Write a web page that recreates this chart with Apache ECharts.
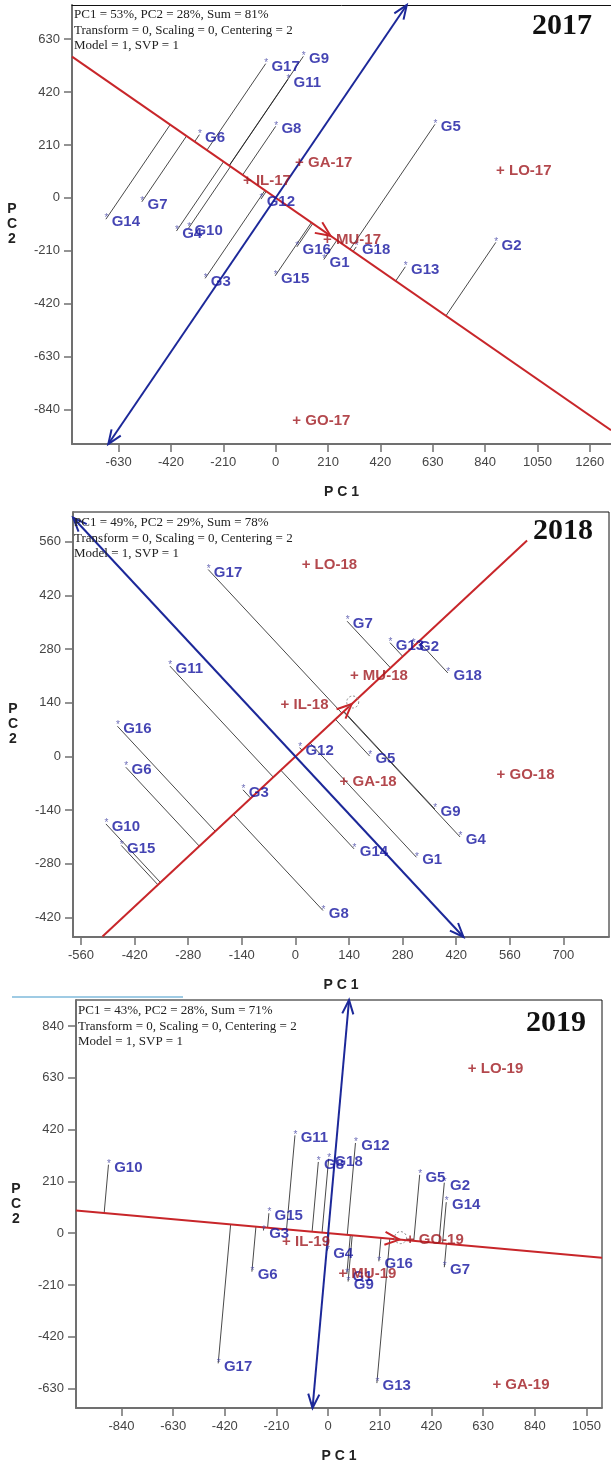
<!DOCTYPE html>
<html>
<head>
<meta charset="utf-8">
<script src="https://cdn.jsdelivr.net/npm/echarts@6/dist/echarts.min.js"></script>
<style>
html, body { margin: 0; padding: 0; background: #fff; }
#biplot { width: 611px; height: 1466px; }
</style>
</head>
<body>
<div id="biplot"></div>
<script>
// genotype scores (PC1, PC2)
var genotypes = ['G1', 'G2', 'G3', 'G4', 'G5', 'G6', 'G7', 'G8', 'G9', 'G10', 'G11', 'G12', 'G13', 'G14', 'G15', 'G16', 'G17', 'G18'];

var genoPC1_2017 = [193, 883, -283, -398, 639, -306, -537, 0, 111, -349, 49, -59, 520, -681, -2, 85, -40, 323];
var genoPC2_2017 = [-245, -177, -320, -132, 292, 251, -16, 284, 562, -120, 470, -5, -274, -85, -310, -195, 533, -195];

var genoPC1_2018 = [316, 308, -137, 430, 194, -443, 135, 72, 364, -495, -328, 11, 247, 153, -455, -465, -228, 398];
var genoPC2_2018 = [-263, 295, -87, -210, 1, -28, 353, -402, -137, -176, 236, 23, 297, -241, -232, 79, 488, 218];

var genoPC1_2019 = [76, 472, -263, -3, 372, -310, 472, -40, 81, -893, -135, 111, 198, 480, -241, 206, -447, 2];
var genoPC2_2019 = [-165, 205, 11, -70, 237, -156, -138, 289, -196, 278, 397, 366, -608, 126, 81, -114, -528, 302];

// environments
var envs2017 = ['GA-17', 'LO-17', 'IL-17', 'MU-17', 'GO-17'];
var envPC1_2017 = [96, 902, -113, 208, 85];
var envPC2_2017 = [140, 107, 66, -168, -886];

var envs2018 = ['LO-18', 'MU-18', 'IL-18', 'GA-18', 'GO-18'];
var envPC1_2018 = [28, 154, -27, 127, 537];
var envPC2_2018 = [499, 210, 136, -65, -48];

var envs2019 = ['LO-19', 'IL-19', 'GO-19', 'MU-19', 'GA-19'];
var envPC1_2019 = [586, -169, 334, 60, 686];
var envPC2_2019 = [668, -34, -27, -163, -615];

// average environment (arrow of the AEC abscissa)
var avgEnv2017 = [220, -151];
var avgEnv2018 = [147, 137];
var avgEnv2019 = [290, -26];

// how far the AEC lines run: abscissa by PC1, ordinate by PC2
var aecAbsX2017 = [-817, 1345], aecOrdY2017 = [-978, 766];
var aecAbsX2018 = [-504, 605], aecOrdY2018 = [-471, 623];
var aecAbsX2019 = [-1025, 1113], aecOrdY2019 = [-709, 946];

// tick labels
var ticksX2017 = [-630, -420, -210, 0, 210, 420, 630, 840, 1050, 1260];
var ticksY2017 = [-840, -630, -420, -210, 0, 210, 420, 630];
var ticksX2018 = [-560, -420, -280, -140, 0, 140, 280, 420, 560, 700];
var ticksY2018 = [-420, -280, -140, 0, 140, 280, 420, 560];
var ticksX2019 = [-840, -630, -420, -210, 0, 210, 420, 630, 840, 1050];
var ticksY2019 = [-630, -420, -210, 0, 210, 420, 630, 840];

var infoText = {
    2017: 'PC1 = 53%, PC2 = 28%, Sum = 81%\nTransform = 0, Scaling = 0, Centering = 2\nModel = 1, SVP = 1',
    2018: 'PC1 = 49%, PC2 = 29%, Sum = 78%\nTransform = 0, Scaling = 0, Centering = 2\nModel = 1, SVP = 1',
    2019: 'PC1 = 43%, PC2 = 28%, Sum = 71%\nTransform = 0, Scaling = 0, Centering = 2\nModel = 1, SVP = 1'
};

// the 2017 panel runs past the right edge of the picture, so it gets no frame box
var panels = [
    { year: '2017', px: genoPC1_2017, py: genoPC2_2017, envs: envs2017, ex: envPC1_2017, ey: envPC2_2017,
      avg: avgEnv2017, absX: aecAbsX2017, ordY: aecOrdY2017, tx: ticksX2017, ty: ticksY2017,
      xRange: [-817, 1345], yRange: [-978, 766], frame: false,
      grid: { left: 72, top: 5, width: 545, height: 439 }, yearPos: [592, 26], infoPos: [74, 7], circle: false },
    { year: '2018', px: genoPC1_2018, py: genoPC2_2018, envs: envs2018, ex: envPC1_2018, ey: envPC2_2018,
      avg: avgEnv2018, absX: aecAbsX2018, ordY: aecOrdY2018, tx: ticksX2018, ty: ticksY2018,
      xRange: [-581, 819], yRange: [-471, 638], frame: true,
      grid: { left: 73, top: 512, width: 536, height: 425 }, yearPos: [593, 531], infoPos: [74, 515], circle: true },
    { year: '2019', px: genoPC1_2019, py: genoPC2_2019, envs: envs2019, ex: envPC1_2019, ey: envPC2_2019,
      avg: avgEnv2019, absX: aecAbsX2019, ordY: aecOrdY2019, tx: ticksX2019, ty: ticksY2019,
      xRange: [-1025, 1113], yRange: [-709, 946], frame: true,
      grid: { left: 76, top: 1000, width: 526, height: 408 }, yearPos: [586, 1023], infoPos: [78, 1003], circle: true }
];

var RED = '#c8262a', BLUE = '#1c2899', GENO = '#1515a0', ENV = '#a01a20', AXIS = '#707070';

// Liang-Barsky clip of segment p-q against the plot box
function clipSeg(p, q, box) {
    var t0 = 0, t1 = 1, dx = q[0] - p[0], dy = q[1] - p[1];
    var P = [-dx, dx, -dy, dy];
    var Q = [p[0] - box[0], box[1] - p[0], p[1] - box[2], box[3] - p[1]];
    for (var i = 0; i < 4; i++) {
        if (P[i] === 0) {
            if (Q[i] < 0) return null;
        } else {
            var r = Q[i] / P[i];
            if (P[i] < 0) { if (r > t1) return null; if (r > t0) t0 = r; }
            else { if (r < t0) return null; if (r < t1) t1 = r; }
        }
    }
    return [[p[0] + t0 * dx, p[1] + t0 * dy], [p[0] + t1 * dx, p[1] + t1 * dy]];
}

function arrowHead(tip, from, len, ang, color) {
    var dx = tip[0] - from[0], dy = tip[1] - from[1];
    var L = Math.sqrt(dx * dx + dy * dy), ux = dx / L, uy = dy / L;
    var pts = [];
    [ang, -ang].forEach(function (a) {
        var c = Math.cos(a), s = Math.sin(a);
        pts.push([tip[0] - len * (ux * c - uy * s), tip[1] - len * (ux * s + uy * c)]);
    });
    return { type: 'polyline', shape: { points: [pts[0], tip, pts[1]] },
             style: { stroke: color, lineWidth: 2, fill: null } };
}

var grids = [], xAxes = [], yAxes = [], series = [], graphics = [];
var labelFont = 'Liberation Sans, Arial, sans-serif';
var plainNumber = function (v) { return String(v); };

panels.forEach(function (pn, i) {
    grids.push({ left: pn.grid.left, top: pn.grid.top, width: pn.grid.width, height: pn.grid.height,
                 show: pn.frame, borderColor: '#111', borderWidth: 1, backgroundColor: 'transparent' });

    xAxes.push({
        type: 'value', gridIndex: i, min: pn.xRange[0], max: pn.xRange[1],
        splitLine: { show: false },
        axisLine: { onZero: false, lineStyle: { color: AXIS, width: 2 } },
        axisTick: { customValues: pn.tx, length: 8, lineStyle: { color: AXIS, width: 1.5 } },
        axisLabel: { customValues: pn.tx, formatter: plainNumber, color: '#454545', fontSize: 13, margin: 12, fontFamily: labelFont },
        name: 'P C 1', nameLocation: 'middle', nameGap: 41,
        nameTextStyle: { fontSize: 14, fontWeight: 'bold', color: '#222', fontFamily: labelFont }
    });
    // top frame line for the unframed panel, drawn as a second x axis
    if (!pn.frame) {
        xAxes.push({
            type: 'value', gridIndex: i, position: 'top', min: pn.xRange[0], max: pn.xRange[1],
            splitLine: { show: false }, axisTick: { show: false }, axisLabel: { show: false },
            axisLine: { onZero: false, lineStyle: { color: '#111', width: 1 } }
        });
    }
    yAxes.push({
        type: 'value', gridIndex: i, min: pn.yRange[0], max: pn.yRange[1],
        splitLine: { show: false },
        axisLine: { onZero: false, lineStyle: { color: AXIS, width: 2 } },
        axisTick: { customValues: pn.ty, length: 8, lineStyle: { color: AXIS, width: 1.5 } },
        axisLabel: { customValues: pn.ty, formatter: plainNumber, color: '#454545', fontSize: 13, margin: 12, fontFamily: labelFont },
        name: 'P\nC\n2', nameLocation: 'middle', nameRotate: 0, nameGap: 60,
        nameTextStyle: { fontSize: 14, fontWeight: 'bold', color: '#222', fontFamily: labelFont,
                         align: 'center', verticalAlign: 'middle', lineHeight: 15, padding: [0, 0, 12, 0] }
    });
});

// series reference the main x axis of each panel
var xIndexOf = [];
(function () {
    var n = 0;
    panels.forEach(function (pn) { xIndexOf.push(n); n += pn.frame ? 1 : 2; });
})();

panels.forEach(function (pn, i) {
    var xi = xIndexOf[i];
    var box = [pn.xRange[0], pn.xRange[1], pn.yRange[0], pn.yRange[1]];
    var avg = pn.avg;

    // projection of each genotype onto the average-environment axis
    series.push({
        type: 'custom', xAxisIndex: xi, yAxisIndex: i, silent: true, z: 2,
        data: pn.px.map(function (x, j) { return [x, pn.py[j]]; }),
        renderItem: function (params, api) {
            var x = api.value(0), y = api.value(1);
            var t = (x * avg[0] + y * avg[1]) / (avg[0] * avg[0] + avg[1] * avg[1]);
            var a = api.coord([x, y]), b = api.coord([t * avg[0], t * avg[1]]);
            return { type: 'line', shape: { x1: a[0], y1: a[1], x2: b[0], y2: b[1] },
                     style: { stroke: '#1a1a1a', lineWidth: 0.8 } };
        }
    });

    // AEC abscissa (red) and ordinate (blue)
    series.push({
        type: 'custom', xAxisIndex: xi, yAxisIndex: i, silent: true, z: 3,
        data: [[0, 0]],
        renderItem: function (params, api) {
            var k = avg[1] / avg[0];
            var red = clipSeg([pn.absX[0], k * pn.absX[0]], [pn.absX[1], k * pn.absX[1]], box);
            var m = -avg[1] / avg[0];
            var blue = clipSeg([m * pn.ordY[0], pn.ordY[0]], [m * pn.ordY[1], pn.ordY[1]], box);
            var r0 = api.coord(red[0]), r1 = api.coord(red[1]);
            var b0 = api.coord(blue[0]), b1 = api.coord(blue[1]);
            var tip = api.coord(avg), org = api.coord([0, 0]);
            var kids = [
                { type: 'line', shape: { x1: r0[0], y1: r0[1], x2: r1[0], y2: r1[1] }, style: { stroke: RED, lineWidth: 2 } },
                { type: 'line', shape: { x1: b0[0], y1: b0[1], x2: b1[0], y2: b1[1] }, style: { stroke: BLUE, lineWidth: 2 } },
                arrowHead(b0, b1, 15, 0.38, BLUE),
                arrowHead(b1, b0, 15, 0.38, BLUE),
                arrowHead(tip, org, 16, 0.42, RED)
            ];
            if (pn.circle) {
                kids.push({ type: 'circle', shape: { cx: tip[0] + 1, cy: tip[1] - 2, r: 6 },
                            style: { stroke: '#888', lineWidth: 1, lineDash: [2, 2], fill: null } });
            }
            return { type: 'group', children: kids };
        }
    });

    series.push({
        type: 'scatter', xAxisIndex: xi, yAxisIndex: i, symbolSize: 1, z: 5,
        itemStyle: { color: 'rgba(0,0,0,0)' },
        data: genotypes.map(function (g, j) { return { name: g, value: [pn.px[j], pn.py[j]] }; }),
        label: {
            show: true, position: 'right', distance: 0, offset: [-2, 3],
            formatter: function (p) { return '{s|*} {g|' + p.name + '}'; },
            rich: {
                s: { fontSize: 10, color: '#4a4aa6', padding: [0, 0, 7, 0], fontFamily: labelFont },
                g: { fontSize: 15, fontWeight: 'bold', color: GENO, fontFamily: labelFont }
            }
        }
    });

    series.push({
        type: 'scatter', xAxisIndex: xi, yAxisIndex: i, symbolSize: 1, z: 6,
        itemStyle: { color: 'rgba(0,0,0,0)' },
        data: pn.envs.map(function (e, j) { return { name: e, value: [pn.ex[j], pn.ey[j]] }; }),
        label: {
            show: true, position: 'right', distance: 0, offset: [-5, 0],
            formatter: '+ {b}', fontSize: 15, fontWeight: 'bold', color: ENV, fontFamily: labelFont
        }
    });

    graphics.push({
        type: 'text', left: pn.infoPos[0], top: pn.infoPos[1], z: 10,
        style: { text: infoText[pn.year], font: '13px "Liberation Serif", "Times New Roman", serif',
                 fill: '#222', lineHeight: 15.5 }
    });
    graphics.push({
        type: 'text', x: pn.yearPos[0], y: pn.yearPos[1], z: 10,
        style: { text: pn.year, font: 'bold 30px "Liberation Serif", "Times New Roman", serif',
                 fill: '#111', textAlign: 'right', textVerticalAlign: 'middle' }
    });
});

// faint blue stroke left over above the third panel
graphics.push({ type: 'line', shape: { x1: 12, y1: 997, x2: 183, y2: 997 },
                style: { stroke: '#9fcbe4', lineWidth: 2 }, z: 10 });

var biplot = echarts.init(document.getElementById('biplot'));
biplot.setOption({
    animation: false,
    backgroundColor: '#fff',
    grid: grids,
    xAxis: xAxes,
    yAxis: yAxes,
    series: series,
    graphic: graphics
});

window.addEventListener('resize', function () {
    biplot.resize();
});
</script>
</body>
</html>
